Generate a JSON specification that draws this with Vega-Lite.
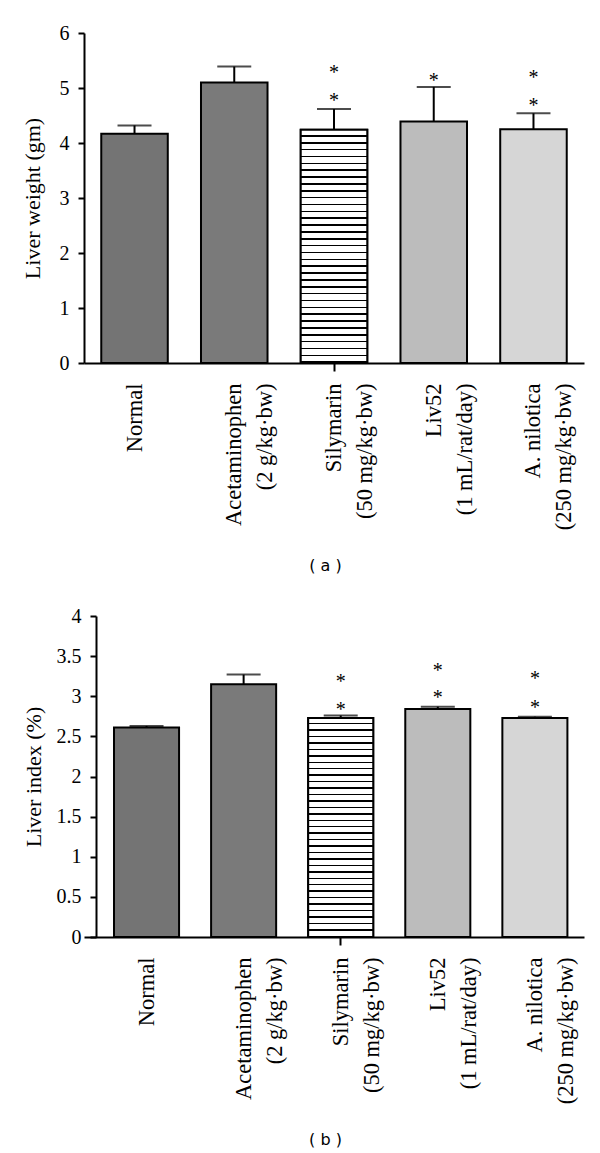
{
  "$schema": "https://vega.github.io/schema/vega-lite/v6.json",
  "background": "white",
  "padding": {"left": 21, "top": 23, "right": 5, "bottom": 5},
  "datasets": {
    "weight": [
      {"group": "Normal", "mean": 4.17, "upper": 4.32},
      {"group": "Acetaminophen\n(2 g/kg·bw)", "mean": 5.10, "upper": 5.39},
      {"group": "Silymarin\n(50 mg/kg·bw)", "mean": 4.24, "upper": 4.62},
      {"group": "Liv52\n(1 mL/rat/day)", "mean": 4.39, "upper": 5.02},
      {"group": "A. nilotica\n(250 mg/kg·bw)", "mean": 4.25, "upper": 4.54}
    ],
    "weightStars": [
      {"group": "Silymarin\n(50 mg/kg·bw)", "pos": 5.33},
      {"group": "Silymarin\n(50 mg/kg·bw)", "pos": 4.81},
      {"group": "Liv52\n(1 mL/rat/day)", "pos": 5.18},
      {"group": "A. nilotica\n(250 mg/kg·bw)", "pos": 5.24},
      {"group": "A. nilotica\n(250 mg/kg·bw)", "pos": 4.72}
    ],
    "index": [
      {"group": "Normal", "mean": 2.61, "upper": 2.63},
      {"group": "Acetaminophen\n(2 g/kg·bw)", "mean": 3.15, "upper": 3.27},
      {"group": "Silymarin\n(50 mg/kg·bw)", "mean": 2.73, "upper": 2.76},
      {"group": "Liv52\n(1 mL/rat/day)", "mean": 2.84, "upper": 2.87},
      {"group": "A. nilotica\n(250 mg/kg·bw)", "mean": 2.73, "upper": 2.745}
    ],
    "indexStars": [
      {"group": "Silymarin\n(50 mg/kg·bw)", "pos": 3.21},
      {"group": "Silymarin\n(50 mg/kg·bw)", "pos": 2.86},
      {"group": "Liv52\n(1 mL/rat/day)", "pos": 3.35},
      {"group": "Liv52\n(1 mL/rat/day)", "pos": 3.01},
      {"group": "A. nilotica\n(250 mg/kg·bw)", "pos": 3.25},
      {"group": "A. nilotica\n(250 mg/kg·bw)", "pos": 2.89}
    ]
  },
  "spacing": 32,
  "vconcat": [
    {
      "width": 500,
      "height": 330,
      "encoding": {
        "x": {
          "field": "group", "type": "nominal",
          "scale": {"domain": ["Normal", "Acetaminophen\n(2 g/kg·bw)", "Silymarin\n(50 mg/kg·bw)", "Liv52\n(1 mL/rat/day)", "A. nilotica\n(250 mg/kg·bw)"], "paddingInner": 0.333, "paddingOuter": 0.173},
          "axis": {
            "title": "( a )",
            "titleX": 241,
            "labelExpr": "split(datum.label, '\\n')",
            "tickColor": {"condition": {"test": "indexof(datum.value, 'Silymarin') === 0", "value": "black"}, "value": "transparent"}
          }
        }
      },
      "layer": [
        {
          "data": {"name": "weight"},
          "mark": {"type": "bar", "stroke": "black", "strokeWidth": 2},
          "encoding": {
            "y": {"field": "mean", "type": "quantitative", "scale": {"domain": [0, 6], "nice": false}, "axis": {"title": "Liver weight (gm)", "titlePadding": 15, "values": [0, 1, 2, 3, 4, 5, 6], "labelExpr": "datum.value + ''"}},
            "fill": {"field": "group", "type": "nominal", "legend": null, "scale": {"domain": ["Normal", "Acetaminophen\n(2 g/kg·bw)", "Silymarin\n(50 mg/kg·bw)", "Liv52\n(1 mL/rat/day)", "A. nilotica\n(250 mg/kg·bw)"], "range": ["#747474", "#7a7a7a", "#cccccc", "#bcbcbc", "#d6d6d6"]}}
          }
        },
        {
          "data": {"name": "weight"},
          "transform": [{"filter": "indexof(datum.group, 'Silymarin') === 0"}],
          "mark": {"type": "bar", "stroke": "black", "strokeWidth": 2, "fill": {"gradient": "linear", "x1": 0, "y1": 0, "x2": 0, "y2": 1, "stops": [
            {"offset":0,"color":"#fff"},{"offset":0.0229,"color":"#fff"},{"offset":0.0229,"color":"#000"},{"offset":0.0294,"color":"#000"},
            {"offset":0.0294,"color":"#fff"},{"offset":0.0523,"color":"#fff"},{"offset":0.0523,"color":"#000"},{"offset":0.0588,"color":"#000"},
            {"offset":0.0588,"color":"#fff"},{"offset":0.0817,"color":"#fff"},{"offset":0.0817,"color":"#000"},{"offset":0.0882,"color":"#000"},
            {"offset":0.0882,"color":"#fff"},{"offset":0.1111,"color":"#fff"},{"offset":0.1111,"color":"#000"},{"offset":0.1176,"color":"#000"},
            {"offset":0.1176,"color":"#fff"},{"offset":0.1405,"color":"#fff"},{"offset":0.1405,"color":"#000"},{"offset":0.1471,"color":"#000"},
            {"offset":0.1471,"color":"#fff"},{"offset":0.17,"color":"#fff"},{"offset":0.17,"color":"#000"},{"offset":0.1765,"color":"#000"},
            {"offset":0.1765,"color":"#fff"},{"offset":0.1994,"color":"#fff"},{"offset":0.1994,"color":"#000"},{"offset":0.2059,"color":"#000"},
            {"offset":0.2059,"color":"#fff"},{"offset":0.2288,"color":"#fff"},{"offset":0.2288,"color":"#000"},{"offset":0.2353,"color":"#000"},
            {"offset":0.2353,"color":"#fff"},{"offset":0.2582,"color":"#fff"},{"offset":0.2582,"color":"#000"},{"offset":0.2647,"color":"#000"},
            {"offset":0.2647,"color":"#fff"},{"offset":0.2876,"color":"#fff"},{"offset":0.2876,"color":"#000"},{"offset":0.2941,"color":"#000"},
            {"offset":0.2941,"color":"#fff"},{"offset":0.317,"color":"#fff"},{"offset":0.317,"color":"#000"},{"offset":0.3235,"color":"#000"},
            {"offset":0.3235,"color":"#fff"},{"offset":0.3464,"color":"#fff"},{"offset":0.3464,"color":"#000"},{"offset":0.3529,"color":"#000"},
            {"offset":0.3529,"color":"#fff"},{"offset":0.3758,"color":"#fff"},{"offset":0.3758,"color":"#000"},{"offset":0.3824,"color":"#000"},
            {"offset":0.3824,"color":"#fff"},{"offset":0.4053,"color":"#fff"},{"offset":0.4053,"color":"#000"},{"offset":0.4118,"color":"#000"},
            {"offset":0.4118,"color":"#fff"},{"offset":0.4347,"color":"#fff"},{"offset":0.4347,"color":"#000"},{"offset":0.4412,"color":"#000"},
            {"offset":0.4412,"color":"#fff"},{"offset":0.4641,"color":"#fff"},{"offset":0.4641,"color":"#000"},{"offset":0.4706,"color":"#000"},
            {"offset":0.4706,"color":"#fff"},{"offset":0.4935,"color":"#fff"},{"offset":0.4935,"color":"#000"},{"offset":0.5,"color":"#000"},
            {"offset":0.5,"color":"#fff"},{"offset":0.5229,"color":"#fff"},{"offset":0.5229,"color":"#000"},{"offset":0.5294,"color":"#000"},
            {"offset":0.5294,"color":"#fff"},{"offset":0.5523,"color":"#fff"},{"offset":0.5523,"color":"#000"},{"offset":0.5588,"color":"#000"},
            {"offset":0.5588,"color":"#fff"},{"offset":0.5817,"color":"#fff"},{"offset":0.5817,"color":"#000"},{"offset":0.5882,"color":"#000"},
            {"offset":0.5882,"color":"#fff"},{"offset":0.6111,"color":"#fff"},{"offset":0.6111,"color":"#000"},{"offset":0.6176,"color":"#000"},
            {"offset":0.6176,"color":"#fff"},{"offset":0.6405,"color":"#fff"},{"offset":0.6405,"color":"#000"},{"offset":0.6471,"color":"#000"},
            {"offset":0.6471,"color":"#fff"},{"offset":0.67,"color":"#fff"},{"offset":0.67,"color":"#000"},{"offset":0.6765,"color":"#000"},
            {"offset":0.6765,"color":"#fff"},{"offset":0.6994,"color":"#fff"},{"offset":0.6994,"color":"#000"},{"offset":0.7059,"color":"#000"},
            {"offset":0.7059,"color":"#fff"},{"offset":0.7288,"color":"#fff"},{"offset":0.7288,"color":"#000"},{"offset":0.7353,"color":"#000"},
            {"offset":0.7353,"color":"#fff"},{"offset":0.7582,"color":"#fff"},{"offset":0.7582,"color":"#000"},{"offset":0.7647,"color":"#000"},
            {"offset":0.7647,"color":"#fff"},{"offset":0.7876,"color":"#fff"},{"offset":0.7876,"color":"#000"},{"offset":0.7941,"color":"#000"},
            {"offset":0.7941,"color":"#fff"},{"offset":0.817,"color":"#fff"},{"offset":0.817,"color":"#000"},{"offset":0.8235,"color":"#000"},
            {"offset":0.8235,"color":"#fff"},{"offset":0.8464,"color":"#fff"},{"offset":0.8464,"color":"#000"},{"offset":0.8529,"color":"#000"},
            {"offset":0.8529,"color":"#fff"},{"offset":0.8758,"color":"#fff"},{"offset":0.8758,"color":"#000"},{"offset":0.8824,"color":"#000"},
            {"offset":0.8824,"color":"#fff"},{"offset":0.9053,"color":"#fff"},{"offset":0.9053,"color":"#000"},{"offset":0.9118,"color":"#000"},
            {"offset":0.9118,"color":"#fff"},{"offset":0.9347,"color":"#fff"},{"offset":0.9347,"color":"#000"},{"offset":0.9412,"color":"#000"},
            {"offset":0.9412,"color":"#fff"},{"offset":0.9641,"color":"#fff"},{"offset":0.9641,"color":"#000"},{"offset":0.9706,"color":"#000"},
            {"offset":0.9706,"color":"#fff"},{"offset":0.9935,"color":"#fff"},{"offset":0.9935,"color":"#000"},{"offset":1,"color":"#000"}
          ]}},
          "encoding": {
            "y": {"field": "mean", "type": "quantitative"}
          }
        },
        {
          "data": {"name": "weight"},
          "mark": {"type": "rule", "color": "black", "strokeWidth": 2},
          "encoding": {
            "y": {"field": "mean", "type": "quantitative"},
            "y2": {"field": "upper"}
          }
        },
        {
          "data": {"name": "weight"},
          "mark": {"type": "tick", "color": "black", "thickness": 2, "size": 34},
          "encoding": {
            "y": {"field": "upper", "type": "quantitative"}
          }
        },
        {
          "data": {"name": "weightStars"},
          "mark": {"type": "text", "text": "*", "font": "Liberation Serif", "fontSize": 20, "baseline": "alphabetic", "dy": 9, "color": "black"},
          "encoding": {
            "y": {"field": "pos", "type": "quantitative"}
          }
        }
      ]
    },
    {
      "width": 500,
      "height": 321,
      "encoding": {
        "x": {
          "field": "group", "type": "nominal",
          "scale": {"domain": ["Normal", "Acetaminophen\n(2 g/kg·bw)", "Silymarin\n(50 mg/kg·bw)", "Liv52\n(1 mL/rat/day)", "A. nilotica\n(250 mg/kg·bw)"], "paddingInner": 0.33, "paddingOuter": 0.24, "align": 0.644},
          "axis": {
            "title": "( b )",
            "titleX": 241,
            "labelExpr": "split(datum.label, '\\n')",
            "tickColor": {"condition": {"test": "indexof(datum.value, 'Silymarin') === 0", "value": "black"}, "value": "transparent"}
          }
        }
      },
      "layer": [
        {
          "data": {"name": "index"},
          "mark": {"type": "bar", "stroke": "black", "strokeWidth": 2},
          "encoding": {
            "y": {"field": "mean", "type": "quantitative", "scale": {"domain": [0, 4], "nice": false}, "axis": {"title": "Liver index (%)", "titlePadding": 11, "offset": -12, "values": [0, 0.5, 1, 1.5, 2, 2.5, 3, 3.5, 4], "labelExpr": "datum.value + ''"}},
            "fill": {"field": "group", "type": "nominal", "legend": null, "scale": {"domain": ["Normal", "Acetaminophen\n(2 g/kg·bw)", "Silymarin\n(50 mg/kg·bw)", "Liv52\n(1 mL/rat/day)", "A. nilotica\n(250 mg/kg·bw)"], "range": ["#747474", "#7a7a7a", "#cccccc", "#bcbcbc", "#d6d6d6"]}}
          }
        },
        {
          "data": {"name": "index"},
          "transform": [{"filter": "indexof(datum.group, 'Silymarin') === 0"}],
          "mark": {"type": "bar", "stroke": "black", "strokeWidth": 2, "fill": {"gradient": "linear", "x1": 0, "y1": 0, "x2": 0, "y2": 1, "stops": [
            {"offset":0,"color":"#fff"},{"offset":0.0229,"color":"#fff"},{"offset":0.0229,"color":"#000"},{"offset":0.0294,"color":"#000"},
            {"offset":0.0294,"color":"#fff"},{"offset":0.0523,"color":"#fff"},{"offset":0.0523,"color":"#000"},{"offset":0.0588,"color":"#000"},
            {"offset":0.0588,"color":"#fff"},{"offset":0.0817,"color":"#fff"},{"offset":0.0817,"color":"#000"},{"offset":0.0882,"color":"#000"},
            {"offset":0.0882,"color":"#fff"},{"offset":0.1111,"color":"#fff"},{"offset":0.1111,"color":"#000"},{"offset":0.1176,"color":"#000"},
            {"offset":0.1176,"color":"#fff"},{"offset":0.1405,"color":"#fff"},{"offset":0.1405,"color":"#000"},{"offset":0.1471,"color":"#000"},
            {"offset":0.1471,"color":"#fff"},{"offset":0.17,"color":"#fff"},{"offset":0.17,"color":"#000"},{"offset":0.1765,"color":"#000"},
            {"offset":0.1765,"color":"#fff"},{"offset":0.1994,"color":"#fff"},{"offset":0.1994,"color":"#000"},{"offset":0.2059,"color":"#000"},
            {"offset":0.2059,"color":"#fff"},{"offset":0.2288,"color":"#fff"},{"offset":0.2288,"color":"#000"},{"offset":0.2353,"color":"#000"},
            {"offset":0.2353,"color":"#fff"},{"offset":0.2582,"color":"#fff"},{"offset":0.2582,"color":"#000"},{"offset":0.2647,"color":"#000"},
            {"offset":0.2647,"color":"#fff"},{"offset":0.2876,"color":"#fff"},{"offset":0.2876,"color":"#000"},{"offset":0.2941,"color":"#000"},
            {"offset":0.2941,"color":"#fff"},{"offset":0.317,"color":"#fff"},{"offset":0.317,"color":"#000"},{"offset":0.3235,"color":"#000"},
            {"offset":0.3235,"color":"#fff"},{"offset":0.3464,"color":"#fff"},{"offset":0.3464,"color":"#000"},{"offset":0.3529,"color":"#000"},
            {"offset":0.3529,"color":"#fff"},{"offset":0.3758,"color":"#fff"},{"offset":0.3758,"color":"#000"},{"offset":0.3824,"color":"#000"},
            {"offset":0.3824,"color":"#fff"},{"offset":0.4053,"color":"#fff"},{"offset":0.4053,"color":"#000"},{"offset":0.4118,"color":"#000"},
            {"offset":0.4118,"color":"#fff"},{"offset":0.4347,"color":"#fff"},{"offset":0.4347,"color":"#000"},{"offset":0.4412,"color":"#000"},
            {"offset":0.4412,"color":"#fff"},{"offset":0.4641,"color":"#fff"},{"offset":0.4641,"color":"#000"},{"offset":0.4706,"color":"#000"},
            {"offset":0.4706,"color":"#fff"},{"offset":0.4935,"color":"#fff"},{"offset":0.4935,"color":"#000"},{"offset":0.5,"color":"#000"},
            {"offset":0.5,"color":"#fff"},{"offset":0.5229,"color":"#fff"},{"offset":0.5229,"color":"#000"},{"offset":0.5294,"color":"#000"},
            {"offset":0.5294,"color":"#fff"},{"offset":0.5523,"color":"#fff"},{"offset":0.5523,"color":"#000"},{"offset":0.5588,"color":"#000"},
            {"offset":0.5588,"color":"#fff"},{"offset":0.5817,"color":"#fff"},{"offset":0.5817,"color":"#000"},{"offset":0.5882,"color":"#000"},
            {"offset":0.5882,"color":"#fff"},{"offset":0.6111,"color":"#fff"},{"offset":0.6111,"color":"#000"},{"offset":0.6176,"color":"#000"},
            {"offset":0.6176,"color":"#fff"},{"offset":0.6405,"color":"#fff"},{"offset":0.6405,"color":"#000"},{"offset":0.6471,"color":"#000"},
            {"offset":0.6471,"color":"#fff"},{"offset":0.67,"color":"#fff"},{"offset":0.67,"color":"#000"},{"offset":0.6765,"color":"#000"},
            {"offset":0.6765,"color":"#fff"},{"offset":0.6994,"color":"#fff"},{"offset":0.6994,"color":"#000"},{"offset":0.7059,"color":"#000"},
            {"offset":0.7059,"color":"#fff"},{"offset":0.7288,"color":"#fff"},{"offset":0.7288,"color":"#000"},{"offset":0.7353,"color":"#000"},
            {"offset":0.7353,"color":"#fff"},{"offset":0.7582,"color":"#fff"},{"offset":0.7582,"color":"#000"},{"offset":0.7647,"color":"#000"},
            {"offset":0.7647,"color":"#fff"},{"offset":0.7876,"color":"#fff"},{"offset":0.7876,"color":"#000"},{"offset":0.7941,"color":"#000"},
            {"offset":0.7941,"color":"#fff"},{"offset":0.817,"color":"#fff"},{"offset":0.817,"color":"#000"},{"offset":0.8235,"color":"#000"},
            {"offset":0.8235,"color":"#fff"},{"offset":0.8464,"color":"#fff"},{"offset":0.8464,"color":"#000"},{"offset":0.8529,"color":"#000"},
            {"offset":0.8529,"color":"#fff"},{"offset":0.8758,"color":"#fff"},{"offset":0.8758,"color":"#000"},{"offset":0.8824,"color":"#000"},
            {"offset":0.8824,"color":"#fff"},{"offset":0.9053,"color":"#fff"},{"offset":0.9053,"color":"#000"},{"offset":0.9118,"color":"#000"},
            {"offset":0.9118,"color":"#fff"},{"offset":0.9347,"color":"#fff"},{"offset":0.9347,"color":"#000"},{"offset":0.9412,"color":"#000"},
            {"offset":0.9412,"color":"#fff"},{"offset":0.9641,"color":"#fff"},{"offset":0.9641,"color":"#000"},{"offset":0.9706,"color":"#000"},
            {"offset":0.9706,"color":"#fff"},{"offset":0.9935,"color":"#fff"},{"offset":0.9935,"color":"#000"},{"offset":1,"color":"#000"}
          ]}},
          "encoding": {
            "y": {"field": "mean", "type": "quantitative"}
          }
        },
        {
          "data": {"name": "index"},
          "mark": {"type": "rule", "color": "black", "strokeWidth": 2},
          "encoding": {
            "y": {"field": "mean", "type": "quantitative"},
            "y2": {"field": "upper"}
          }
        },
        {
          "data": {"name": "index"},
          "mark": {"type": "tick", "color": "black", "thickness": 2, "size": 34},
          "encoding": {
            "y": {"field": "upper", "type": "quantitative"}
          }
        },
        {
          "data": {"name": "indexStars"},
          "mark": {"type": "text", "text": "*", "font": "Liberation Serif", "fontSize": 20, "baseline": "alphabetic", "dy": 9, "color": "black"},
          "encoding": {
            "y": {"field": "pos", "type": "quantitative"}
          }
        }
      ]
    }
  ],
  "config": {
    "view": {"stroke": null},
    "font": "Liberation Serif",
    "axis": {"domainColor": "black", "domainWidth": 2, "tickColor": "black", "tickWidth": 2, "labelColor": "black", "titleColor": "black", "labelFont": "Liberation Serif", "titleFont": "Liberation Serif", "titleFontWeight": "normal", "grid": false},
    "axisY": {"tickSize": 6, "labelFont": "Liberation Serif", "labelFontSize": 20, "labelPadding": 9, "titleFont": "Liberation Serif", "titleFontSize": 22},
    "axisX": {"labelAngle": -90, "labelFont": "Liberation Serif", "labelFontSize": 22.5, "labelLineHeight": 31, "tickSize": 8, "labelPadding": 12, "titleFont": "DejaVu Sans", "titleFontSize": 16, "titlePadding": 28}
  }
}
